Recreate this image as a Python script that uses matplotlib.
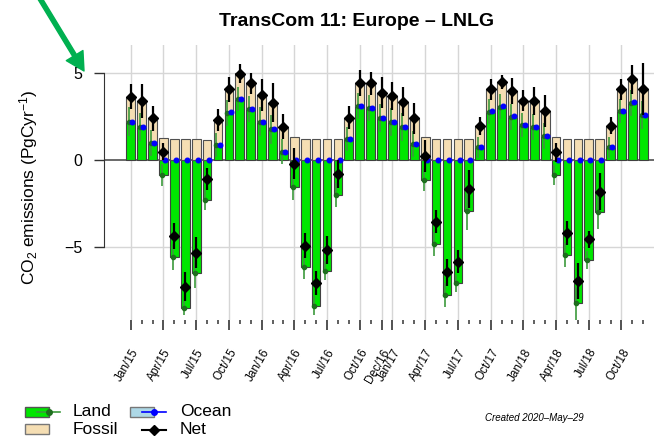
import numpy as np
import pandas as pd
import matplotlib
matplotlib.use('Agg')
import matplotlib.pyplot as plt
from matplotlib.patches import Rectangle

plt.rcParams['font.family'] = ['Liberation Sans', 'DejaVu Sans']
plt.rcParams['mathtext.fontset'] = 'custom'
plt.rcParams['mathtext.rm'] = 'Liberation Sans'
plt.rcParams['mathtext.it'] = 'Liberation Sans:italic'
plt.rcParams['mathtext.bf'] = 'Liberation Sans:bold'

# ---------------------------
# Data (PgC/yr), Jan 2015 .. Dec 2018
# ---------------------------
months = pd.date_range('2015-01-01', periods=48, freq='MS')

land = [2.20, 1.88, 0.96, -0.86, -5.56, -8.52, -6.51, -2.30, 0.86, 2.72, 3.52, 2.93,
        2.20, 1.76, 0.48, -1.57, -6.17, -8.37, -6.36, -2.01, 1.20, 3.10, 2.97, 2.43,
        2.20, 1.88, 0.92, -1.15, -4.83, -7.76, -7.09, -2.91, 0.73, 2.78, 3.07, 2.49,
        2.01, 1.88, 1.40, -0.86, -5.46, -8.24, -5.75, -2.97, 0.73, 2.82, 3.30, 2.59]
land_err = [0.85, 0.80, 0.75, 0.64, 0.75, 0.40, 0.85, 0.57, 0.70, 0.75, 0.70, 0.75,
            0.85, 0.85, 0.70, 0.72, 0.65, 0.55, 0.55, 0.67, 0.70, 0.75, 0.75, 0.80,
            0.80, 0.80, 0.75, 0.65, 0.70, 0.70, 0.50, 1.10, 0.60, 0.70, 0.70, 0.75,
            0.70, 0.75, 0.75, 0.58, 0.67, 0.95, 0.50, 1.00, 0.60, 0.70, 0.75, 0.80]
fossil = [1.44, 1.51, 1.43, 1.28, 1.20, 1.20, 1.18, 1.15, 1.44, 1.34, 1.46, 1.47,
          1.54, 1.54, 1.44, 1.30, 1.20, 1.20, 1.20, 1.20, 1.23, 1.34, 1.43, 1.44,
          1.48, 1.47, 1.47, 1.34, 1.20, 1.20, 1.20, 1.20, 1.22, 1.28, 1.43, 1.49,
          1.40, 1.51, 1.42, 1.30, 1.20, 1.20, 1.20, 1.20, 1.22, 1.24, 1.34, 1.47]
ocean = [0.01, 0.01, 0.00, -0.02, -0.03, -0.03, -0.02, -0.01, 0.00, 0.01, 0.01, 0.01,
         0.01, 0.01, 0.00, -0.02, -0.03, -0.03, -0.02, -0.01, 0.00, 0.01, 0.01, 0.01,
         0.01, 0.01, 0.00, -0.02, -0.03, -0.03, -0.02, -0.01, 0.00, 0.01, 0.01, 0.01,
         0.01, 0.01, 0.00, -0.02, -0.03, -0.03, -0.02, -0.01, 0.00, 0.01, 0.01, 0.01]
net = [3.64, 3.39, 2.39, 0.48, -4.35, -7.28, -5.33, -1.09, 2.30, 4.06, 4.95, 4.40,
       3.74, 3.30, 1.92, -0.21, -4.92, -7.09, -5.17, -0.80, 2.43, 4.44, 4.40, 3.87,
       3.68, 3.35, 2.39, 0.23, -3.54, -6.46, -5.84, -1.67, 1.95, 4.06, 4.50, 3.98,
       3.41, 3.39, 2.82, 0.45, -4.21, -6.95, -4.56, -1.82, 1.97, 4.06, 4.64, 4.06]
net_err = [0.70, 1.00, 0.70, 0.50, 0.75, 0.85, 0.90, 0.62, 0.65, 0.70, 0.55, 0.60,
           0.90, 1.10, 0.72, 0.90, 0.72, 0.70, 0.80, 0.80, 0.65, 0.75, 0.65, 0.90,
           0.82, 0.85, 0.90, 0.90, 0.65, 0.78, 0.65, 1.08, 0.50, 0.60, 0.40, 0.75,
           0.60, 0.80, 0.90, 0.55, 0.70, 1.05, 0.50, 1.05, 0.50, 0.60, 0.82, 1.50]

tick_labels = ['Jan/15', 'Apr/15', 'Jul/15', 'Oct/15', 'Jan/16', 'Apr/16', 'Jul/16',
               'Oct/16', 'Dec/16', 'Jan/17', 'Apr/17', 'Jul/17', 'Oct/17', 'Jan/18',
               'Apr/18', 'Jul/18', 'Oct/18']

# ---------------------------
# Positions
# ---------------------------
x = np.arange(len(months))
month_names = [m.strftime('%b/%y') for m in months]
major_pos = [month_names.index(l) for l in tick_labels]
minor_pos = [i for i in x if i not in major_pos]

land = np.array(land)
# positive components are stacked on top of the land bar
base = np.maximum(land, 0)

W, H = 654, 437
fig = plt.figure(figsize=(W / 100, H / 100), dpi=100)
ax = fig.add_axes([104 / W, 1 - 320 / H, (654 - 104) / W, (320 - 45) / H])
ax.set_xlim(-2.45, 47.98)
ax.set_ylim(-9.2, 6.61)

# grid
for p in major_pos:
    ax.axvline(p, color='#d6d6d6', lw=1, zorder=0)
for v in (-5, 5):
    ax.axhline(v, color='#d6d6d6', lw=1, zorder=0)
ax.axhline(0, color='#505050', lw=1.2, zorder=1)

# bars
ax.bar(x, land, width=0.8, color='#00e600', edgecolor='#404040', lw=0.8, zorder=2)
ax.bar(x, fossil, bottom=base, width=0.8, color='#f5deb3', edgecolor='#505050', lw=0.8, zorder=2)

# markers with uncertainties
ax.errorbar(x - 0.15, land, yerr=land_err, fmt='o', ms=3, color='#1e6e1e',
            ecolor='#3c9a3c', elinewidth=1.2, capsize=0, zorder=4)
ax.errorbar(x + 0.15, base + np.array(ocean), yerr=0.04, fmt='o', ms=3.3, color='#0000ff',
            ecolor='#0000ff', elinewidth=1, capsize=0, zorder=5)
ax.errorbar(x, net, yerr=net_err, fmt='D', ms=4.6, color='black',
            elinewidth=1.6, capsize=0, zorder=6)

# axes
for s in ('top', 'right', 'bottom'):
    ax.spines[s].set_visible(False)
ax.spines['left'].set_bounds(-5, 5)
ax.spines['left'].set_color('#333333')
ax.set_yticks([-5, 0, 5])
ax.tick_params(axis='y', length=7.5, width=1, color='#333333', labelsize=11.5, pad=8)

ax.set_xticks(major_pos)
ax.set_xticklabels(tick_labels)
ax.set_xticks(minor_pos, minor=True)
ax.tick_params(axis='x', which='major', length=7.2, width=1.3, color='#444444',
               labelsize=8.5, pad=12)
ax.tick_params(axis='x', which='minor', length=3, width=1.2, color='#444444')
for lbl in ax.get_xticklabels():
    lbl.set_rotation(60)
    lbl.set_ha('right')
    lbl.set_va('top')
    lbl.set_rotation_mode('anchor')

fig.text(29 / W, 1 - 187 / H, r'CO$_2$ emissions (PgCyr$^{-1}$)', rotation=90,
         ha='center', va='center', fontsize=12.5)
fig.text(357 / W, 1 - 22 / H, 'TransCom 11: Europe – LNLG', ha='center', va='center',
         fontsize=14, fontweight='bold')

# ---------------------------
# Legend, note and arrow (pixel overlay)
# ---------------------------
ov = fig.add_axes([0, 0, 1, 1])
ov.set_xlim(0, W)
ov.set_ylim(H, 0)
ov.axis('off')

ov.add_patch(Rectangle((25, 407), 24, 10, fc='#00e600', ec='#555555', lw=1))
ov.plot([37, 60], [412, 412], color='#3c9a3c', lw=1.2)
ov.plot([49], [412], 'o', color='#1e6e1e', ms=4)
ov.text(73, 412, 'Land', va='center', fontsize=12.5)

ov.add_patch(Rectangle((25, 424), 24, 10, fc='#f5deb3', ec='#777777', lw=1))
ov.text(73, 429.5, 'Fossil', va='center', fontsize=12.5)

ov.add_patch(Rectangle((130, 407), 24, 10, fc='#add8e6', ec='#777777', lw=1))
ov.plot([142, 166], [412, 412], color='#0000ff', lw=1.2)
ov.plot([154], [412], 'o', color='#0000ff', ms=4)
ov.text(180, 412, 'Ocean', va='center', fontsize=12.5)

ov.plot([142, 166], [429.5, 429.5], color='black', lw=1.5)
ov.plot([154], [429.5], 'D', color='black', ms=5)
ov.text(180, 429.5, 'Net', va='center', fontsize=12.5)

ov.text(485, 418, 'Created 2020–May–29', va='center', fontsize=7, style='italic')

ov.annotate('', xy=(84, 71), xytext=(36, -8),
            arrowprops=dict(facecolor='#00b050', edgecolor='#00b050', width=3,
                            headwidth=14, headlength=13, shrink=0))

fig.savefig('out.png', dpi=100)
